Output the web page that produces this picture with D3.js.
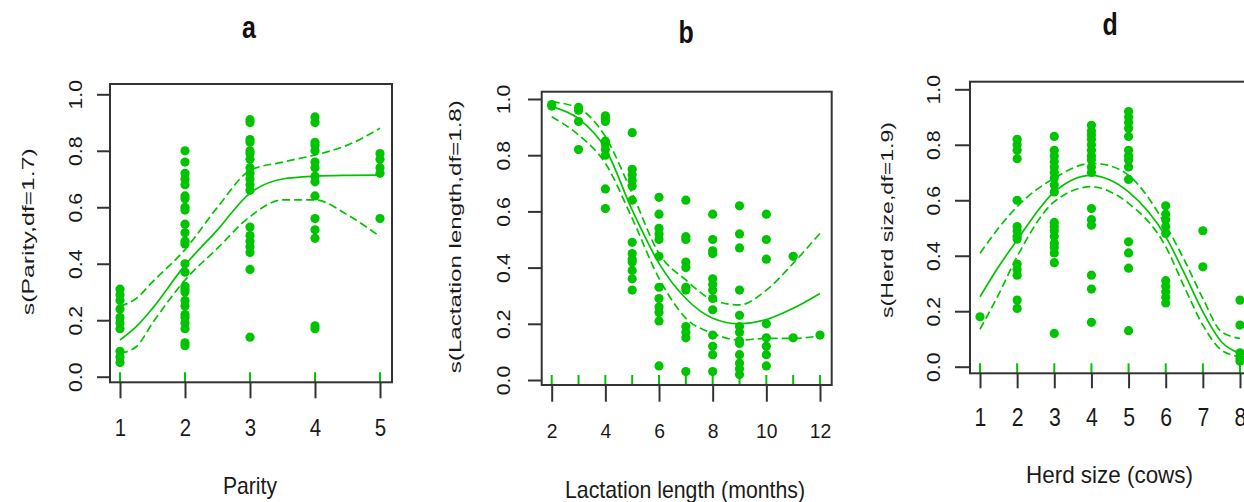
<!DOCTYPE html>
<html>
<head>
<meta charset="utf-8">
<script src="https://cdn.jsdelivr.net/npm/d3@7"></script>
<style>
	body { margin: 0; background: #fff; }
	svg { display: block; }
	text { font-family: "Liberation Sans", Arial, sans-serif; fill: #1a1a1a; }
</style>
</head>
<body>
<svg id="chart" width="1244" height="502"></svg>
<script>

// ---- data ----

var parityLevels = [1, 2, 3, 4, 5];
var parityPoints = [
	[0.31, 0.29, 0.27, 0.24, 0.21, 0.19, 0.17, 0.09, 0.07, 0.05],
	[0.80, 0.76, 0.72, 0.70, 0.68, 0.64, 0.63, 0.60, 0.59, 0.54, 0.51, 0.48, 0.47, 0.40, 0.37, 0.32, 0.31, 0.30, 0.27, 0.25, 0.22, 0.21, 0.19, 0.17, 0.12, 0.11],
	[0.91, 0.90, 0.84, 0.83, 0.80, 0.79, 0.77, 0.74, 0.72, 0.70, 0.68, 0.66, 0.53, 0.50, 0.48, 0.46, 0.44, 0.38, 0.14],
	[0.92, 0.90, 0.83, 0.82, 0.80, 0.76, 0.74, 0.71, 0.69, 0.64, 0.56, 0.52, 0.49, 0.18, 0.17],
	[0.79, 0.77, 0.74, 0.72, 0.56]
];
var parityCurveX = [1, 1.25, 1.5, 2, 2.5, 3, 3.5, 4, 4.5, 5];
var parityFit = [0.13, 0.177, 0.242, 0.395, 0.52, 0.65, 0.70, 0.71, 0.713, 0.714];
var parityUpper = [0.25, 0.277, 0.336, 0.45, 0.60, 0.73, 0.76, 0.785, 0.82, 0.88];
var parityLower = [0.083, 0.106, 0.19, 0.342, 0.455, 0.567, 0.626, 0.626, 0.573, 0.496];

var lactLevels = [2, 3, 4, 5, 6, 7, 8, 9, 10, 11, 12];
var lactPoints = [
	[0.98, 0.975],
	[0.97, 0.96, 0.92, 0.82],
	[0.94, 0.93, 0.92, 0.85, 0.84, 0.82, 0.80, 0.68, 0.61],
	[0.88, 0.75, 0.73, 0.71, 0.69, 0.64, 0.49, 0.45, 0.43, 0.42, 0.39, 0.36, 0.32],
	[0.65, 0.59, 0.54, 0.52, 0.50, 0.44, 0.33, 0.29, 0.26, 0.24, 0.21, 0.05],
	[0.64, 0.51, 0.50, 0.42, 0.40, 0.33, 0.32, 0.19, 0.17, 0.15, 0.03],
	[0.59, 0.50, 0.46, 0.45, 0.36, 0.34, 0.32, 0.29, 0.25, 0.16, 0.12, 0.09, 0.03],
	[0.62, 0.52, 0.47, 0.32, 0.23, 0.19, 0.17, 0.14, 0.13, 0.09, 0.06, 0.04, 0.02],
	[0.59, 0.50, 0.43, 0.20, 0.15, 0.12, 0.09, 0.05],
	[0.44, 0.15],
	[0.16]
];
var lactCurveX = [2, 3, 4, 5, 6, 7, 8, 9, 10, 11, 12];
var lactFit = [0.973, 0.93, 0.824, 0.605, 0.415, 0.29, 0.22, 0.20, 0.215, 0.255, 0.308];
var lactUpper = [0.99, 0.967, 0.866, 0.664, 0.45, 0.356, 0.285, 0.267, 0.32, 0.415, 0.522];
var lactLower = [0.937, 0.872, 0.771, 0.575, 0.362, 0.22, 0.166, 0.142, 0.148, 0.148, 0.157];

var herdLevels = [1, 2, 3, 4, 5, 6, 7, 8];
var herdPoints = [
	[0.18],
	[0.82, 0.80, 0.78, 0.75, 0.60, 0.505, 0.49, 0.47, 0.46, 0.37, 0.35, 0.33, 0.24, 0.21],
	[0.83, 0.78, 0.76, 0.74, 0.72, 0.70, 0.68, 0.655, 0.63, 0.52, 0.505, 0.49, 0.47, 0.445, 0.43, 0.41, 0.375, 0.12],
	[0.87, 0.85, 0.835, 0.82, 0.80, 0.78, 0.76, 0.745, 0.72, 0.70, 0.57, 0.53, 0.51, 0.33, 0.28, 0.16],
	[0.92, 0.90, 0.88, 0.86, 0.83, 0.78, 0.76, 0.745, 0.72, 0.675, 0.45, 0.41, 0.355, 0.13],
	[0.58, 0.55, 0.53, 0.505, 0.48, 0.31, 0.29, 0.27, 0.25, 0.23],
	[0.49, 0.36],
	[0.24, 0.15, 0.05, 0.03, 0.02]
];
var herdCurveX = [1, 1.5, 2, 3, 4, 4.5, 5, 6, 6.5, 7, 7.5, 8];
var herdFit = [0.252, 0.36, 0.457, 0.63, 0.69, 0.673, 0.63, 0.469, 0.337, 0.198, 0.09, 0.048];
var herdUpper = [0.409, 0.50, 0.577, 0.68, 0.733, 0.724, 0.69, 0.51, 0.385, 0.246, 0.126, 0.102];
var herdLower = [0.135, 0.26, 0.397, 0.595, 0.649, 0.631, 0.589, 0.433, 0.288, 0.15, 0.06, 0.036];

var yTickValues = [0, 0.2, 0.4, 0.6, 0.8, 1.0];

// ---- layout ----

var GREEN = "#00c400";
var INK = "#1a1a1a";

var svg = d3.select("#chart");

function drawPanel ( cfg ) {

	var x = d3.scaleLinear().domain(cfg.xDomain).range(cfg.xRange);
	var y = d3.scaleLinear().domain([0, 1]).range(cfg.yRange);

	var g = svg.append("g").attr("class", "panel-" + cfg.title);

	// scatter points
	var pts = [];
	cfg.levels.forEach(function ( lv, i ) {
		cfg.points[i].forEach(function ( v ) {
			pts.push({ x : lv, y : v });
		});
	});

	g.selectAll("circle")
		.data(pts)
		.enter()
		.append("circle")
		.attr("cx", function ( d ) { return x(d.x); })
		.attr("cy", function ( d ) { return y(d.y); })
		.attr("r", 4.6)
		.style("fill", GREEN);

	// smooth + confidence band
	var line = d3.line()
		.x(function ( d ) { return x(d[0]); })
		.y(function ( d ) { return y(d[1]); })
		.curve(d3.curveMonotoneX);

	[[cfg.fit, null], [cfg.upper, "8,4"], [cfg.lower, "8,4"]].forEach(function ( s ) {
		g.append("path")
			.datum(cfg.curveX.map(function ( cx, i ) { return [cx, s[0][i]]; }))
			.attr("d", line)
			.style("fill", "none")
			.style("stroke", GREEN)
			.style("stroke-width", 1.7)
			.style("stroke-dasharray", s[1]);
	});

	// rug
	var boxBottom = cfg.box[3];
	g.selectAll("line.rug")
		.data(cfg.levels)
		.enter()
		.append("line")
		.attr("class", "rug")
		.attr("x1", function ( d ) { return x(d); })
		.attr("x2", function ( d ) { return x(d); })
		.attr("y1", boxBottom)
		.attr("y2", boxBottom - 10)
		.style("stroke", GREEN)
		.style("stroke-width", 2);

	// box
	g.append("rect")
		.attr("x", cfg.box[0])
		.attr("y", cfg.box[1])
		.attr("width", cfg.box[2] - cfg.box[0])
		.attr("height", cfg.box[3] - cfg.box[1])
		.style("fill", "none")
		.style("stroke", "#333")
		.style("stroke-width", 2);

	// x axis
	var xAxis = g.append("g")
		.attr("transform", "translate(0," + boxBottom + ")")
		.call(d3.axisBottom(x).tickValues(cfg.xTicks).tickSize(cfg.xTickLen).tickSizeOuter(0).tickFormat(d3.format("d")));
	xAxis.select(".domain").remove();
	xAxis.selectAll(".tick line").style("stroke", "#333").style("stroke-width", 2);
	xAxis.selectAll(".tick text")
		.attr("y", cfg.xLabelBase)
		.attr("dy", null)
		.attr("transform", "scale(" + cfg.xLabelScale + ",1)")
		.style("font-size", cfg.xLabelSize + "px")
		.style("fill", INK)
		.attr("fill", null);

	// y axis
	var yAxis = g.append("g")
		.attr("transform", "translate(" + cfg.box[0] + ",0)")
		.call(d3.axisLeft(y).tickValues(yTickValues).tickSize(cfg.yTickLen).tickSizeOuter(0).tickFormat(d3.format(".1f")));
	yAxis.select(".domain").remove();
	yAxis.selectAll(".tick line").style("stroke", "#333").style("stroke-width", 2);
	yAxis.selectAll(".tick text")
		.attr("x", 0)
		.attr("dy", "0.35em")
		.attr("text-anchor", "middle")
		.attr("transform", "translate(" + (cfg.yLabelX - cfg.box[0]) + ",0) rotate(-90) scale(1.12,1)")
		.style("font-size", "19px")
		.style("fill", INK)
		.attr("fill", null);

	// titles
	g.append("text")
		.attr("text-anchor", "middle")
		.attr("transform", "translate(" + cfg.titlePos[0] + "," + cfg.titlePos[1] + ") scale(0.78,1)")
		.style("font-size", "32px")
		.style("font-weight", "bold")
		.style("fill", "#111")
		.text(cfg.title);

	g.append("text")
		.attr("text-anchor", "middle")
		.attr("x", cfg.xTitlePos[0])
		.attr("y", cfg.xTitlePos[1])
		.attr("textLength", cfg.xTitleLen)
		.attr("lengthAdjust", "spacingAndGlyphs")
		.style("font-size", "24px")
		.style("fill", INK)
		.text(cfg.xTitle);

	g.append("text")
		.attr("text-anchor", "middle")
		.attr("transform", "translate(" + cfg.yTitlePos[0] + "," + cfg.yTitlePos[1] + ") rotate(-90)")
		.attr("dy", "0.35em")
		.attr("textLength", cfg.yTitleLen)
		.attr("lengthAdjust", "spacingAndGlyphs")
		.style("font-size", "17px")
		.style("fill", INK)
		.text(cfg.yTitle);
}

drawPanel({
	title : "a",
	levels : parityLevels, points : parityPoints,
	curveX : parityCurveX, fit : parityFit, upper : parityUpper, lower : parityLower,
	xDomain : [1, 5], xRange : [120, 380], yRange : [376.7, 94.3],
	box : [110, 84, 392, 382.3],
	xTicks : parityLevels, xTickLen : 16, xLabelBase : 53.7, xLabelSize : 24, xLabelScale : 0.85,
	yTickLen : 13, yLabelX : 75,
	titlePos : [249, 38],
	xTitle : "Parity", xTitlePos : [250, 494], xTitleLen : 54,
	yTitle : "s(Parity,df=1.7)", yTitlePos : [28, 231.7], yTitleLen : 167
});

drawPanel({
	title : "b",
	levels : lactLevels, points : lactPoints,
	curveX : lactCurveX, fit : lactFit, upper : lactUpper, lower : lactLower,
	xDomain : [2, 12], xRange : [551.7, 820], yRange : [380, 99],
	box : [541.7, 91.7, 831.7, 385],
	xTicks : [2, 4, 6, 8, 10, 12], xTickLen : 16.7, xLabelBase : 53, xLabelSize : 21, xLabelScale : 0.92,
	yTickLen : 13.7, yLabelX : 503.5,
	titlePos : [686, 43],
	xTitle : "Lactation length (months)", xTitlePos : [685, 497.7], xTitleLen : 240,
	yTitle : "s(Lactation length,df=1.8)", yTitlePos : [455, 236.7], yTitleLen : 273
});

drawPanel({
	title : "d",
	levels : herdLevels, points : herdPoints,
	curveX : herdCurveX, fit : herdFit, upper : herdUpper, lower : herdLower,
	xDomain : [1, 8], xRange : [980, 1240], yRange : [366.7, 89.3],
	box : [970, 81.7, 1262, 373.3],
	xTicks : herdLevels, xTickLen : 15, xLabelBase : 52.7, xLabelSize : 25, xLabelScale : 0.85,
	yTickLen : 15, yLabelX : 933.3,
	titlePos : [1110, 35],
	xTitle : "Herd size (cows)", xTitlePos : [1109.5, 483], xTitleLen : 167,
	yTitle : "s(Herd size,df=1.9)", yTitlePos : [887.5, 220], yTitleLen : 196
});

</script>
</body>
</html>
